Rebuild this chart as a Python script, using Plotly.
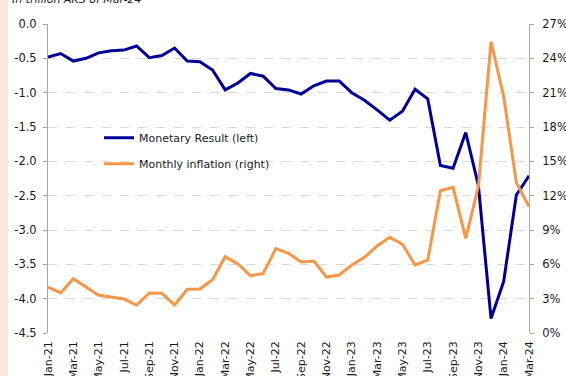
import plotly.graph_objects as go

months = ["Jan-21","Feb-21","Mar-21","Apr-21","May-21","Jun-21","Jul-21","Aug-21","Sep-21","Oct-21","Nov-21","Dec-21",
          "Jan-22","Feb-22","Mar-22","Apr-22","May-22","Jun-22","Jul-22","Aug-22","Sep-22","Oct-22","Nov-22","Dec-22",
          "Jan-23","Feb-23","Mar-23","Apr-23","May-23","Jun-23","Jul-23","Aug-23","Sep-23","Oct-23","Nov-23","Dec-23",
          "Jan-24","Feb-24","Mar-24"]
monetary_result = [-0.48, -0.43, -0.54, -0.50, -0.42, -0.39, -0.38, -0.32, -0.49, -0.46, -0.35, -0.54,
                   -0.55, -0.67, -0.96, -0.86, -0.72, -0.76, -0.94, -0.96, -1.02, -0.90, -0.83, -0.83,
                   -1.00, -1.11, -1.25, -1.40, -1.27, -0.95, -1.09, -2.06, -2.10, -1.58, -2.35, -4.29,
                   -3.75, -2.49, -2.21]
monthly_inflation = [4.00, 3.50, 4.75, 4.05, 3.30, 3.15, 2.97, 2.42, 3.50, 3.47, 2.45, 3.82,
                     3.84, 4.66, 6.67, 6.03, 5.01, 5.21, 7.37, 6.96, 6.20, 6.29, 4.89, 5.07,
                     5.94, 6.61, 7.60, 8.36, 7.75, 5.94, 6.38, 12.43, 12.73, 8.27, 12.80, 25.45,
                     20.65, 13.14, 11.04]
left_ticks = [0.0, -0.5, -1.0, -1.5, -2.0, -2.5, -3.0, -3.5, -4.0, -4.5]
left_ticktext = ["%.1f" % v for v in left_ticks]
right_ticks = list(range(0, 28, 3))
title_text = "In trillion AKS of Mar-24"

BLUE = "#000099"
ORANGE = "#F79646"
AXIS = "#A6A6A6"
GRID = "#D9D9D9"
FONT = "DejaVu Sans"

fig = go.Figure()
fig.add_trace(go.Scatter(x=months, y=monetary_result, name="Monetary Result (left)", mode="lines",
                         line=dict(color=BLUE, width=3), legendgroup="a", yaxis="y", xaxis="x"))
fig.add_trace(go.Scatter(x=months, y=monthly_inflation, name="Monthly inflation (right)", mode="lines",
                         line=dict(color=ORANGE, width=3), legendgroup="b", yaxis="y2", xaxis="x"))

fig.update_layout(
    width=566, height=376,
    margin=dict(l=48, r=37, t=24, b=43, autoexpand=False),
    paper_bgcolor="white", plot_bgcolor="white",
    font=dict(family=FONT, size=11, color="#1a1a1a"),
    showlegend=True,
    legend=dict(x=0.106, y=0.679, xanchor="left", yanchor="top", bgcolor="rgba(0,0,0,0)",
                traceorder="grouped", tracegroupgap=7, font=dict(size=11),
                itemwidth=30),
    xaxis=dict(type="category", categoryorder="array", categoryarray=months,
               tickvals=months[::2], tickangle=-90, showgrid=False, showline=False,
               ticks="", zeroline=False, automargin=False, ticklabelstandoff=5,
               tickfont=dict(size=11)),
    xaxis2=dict(overlaying="x", side="top", range=[0, 39], tick0=0, dtick=2,
                showticklabels=False, ticks="inside", ticklen=3, tickcolor=AXIS,
                showline=True, linecolor=AXIS, linewidth=1, showgrid=False, zeroline=False,
                fixedrange=True),
    yaxis=dict(range=[-4.5, 0], tickvals=left_ticks, ticktext=left_ticktext,
               showgrid=True, gridcolor=GRID, griddash="dash", gridwidth=1,
               showline=True, linecolor=AXIS, linewidth=1, ticks="outside", ticklen=4,
               tickcolor=AXIS, zeroline=False, automargin=False, ticklabelstandoff=4,
               tickfont=dict(size=11.5)),
    yaxis2=dict(range=[0, 27], tickvals=right_ticks, ticktext=["%d%%" % v for v in right_ticks],
                overlaying="y", side="right", showgrid=False,
                showline=True, linecolor=AXIS, linewidth=1, ticks="outside", ticklen=4,
                tickcolor=AXIS, zeroline=False, automargin=False, ticklabelstandoff=6,
                tickfont=dict(size=11.5)),
    shapes=[dict(type="rect", xref="paper", yref="paper", x0=-0.1, x1=(8 - 48) / 481,
                 y0=-0.2, y1=1.2, fillcolor="#FCE8DA", line=dict(width=0), layer="below")],
    annotations=[dict(text="<i>" + title_text + "</i>", xref="paper", yref="paper",
                      x=(10 - 48) / 481, y=1 + (24 - 8) / 309, xanchor="left", yanchor="bottom",
                      showarrow=False, font=dict(size=11, color="#1a1a1a"))],
)
fig.update_layout(xaxis2_type="linear")

fig.write_html("out.html")
